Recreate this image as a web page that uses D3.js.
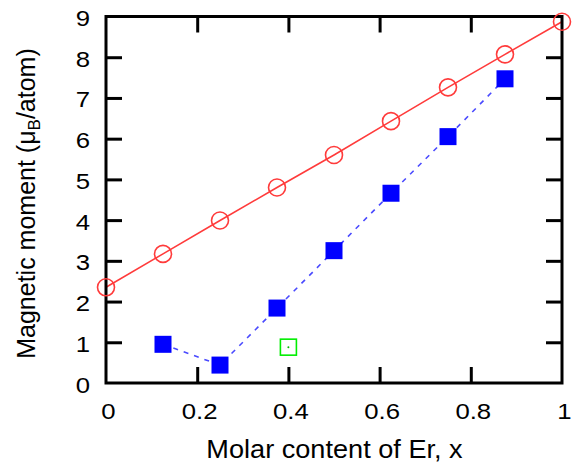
<!DOCTYPE html>
<html><head><meta charset="utf-8">
<script src="https://cdn.jsdelivr.net/npm/d3@7"></script>
<style>body{margin:0;background:#fff}</style>
</head><body>
<script>
const xCircle = [0, 0.125, 0.25, 0.375, 0.5, 0.625, 0.75, 0.875, 1];
const yCircle = [2.35, 3.17, 3.99, 4.80, 5.60, 6.43, 7.26, 8.07, 8.87];
const xSquare = [0.125, 0.25, 0.375, 0.5, 0.625, 0.75, 0.875];
const ySquare = [0.95, 0.44, 1.84, 3.25, 4.66, 6.05, 7.47];
const xOpenSq = [0.40];
const yOpenSq = [0.88];
const xTicks = [0, 0.2, 0.4, 0.6, 0.8, 1];
const yTicks = [0,1,2,3,4,5,6,7,8,9];
const xLabel = "Molar content of Er, x";

const W = 573, H = 469;
const m = {l:106, r:11, t:16.5, b:86};
const svg = d3.select("body").append("svg").attr("width", W).attr("height", H);
const x = d3.scaleLinear().domain([0,1]).range([m.l, W-m.r]);
const y = d3.scaleLinear().domain([0,9]).range([H-m.b, m.t]);
const font = "Liberation Sans, Arial, sans-serif";

// data lines
const circ = xCircle.map((v,i)=>[v,yCircle[i]]);
const sq = xSquare.map((v,i)=>[v,ySquare[i]]);
const line = d3.line().x(d=>x(d[0])).y(d=>y(d[1]));
svg.append("path").attr("d", line(circ)).attr("fill","none").attr("stroke","#ff3b3b").attr("stroke-width",1.6);
svg.append("path").attr("d", line(sq)).attr("fill","none").attr("stroke","#4a4aff").attr("stroke-width",1.6).attr("stroke-dasharray","5,6");

// frame & ticks
const g = svg.append("g");
const tl = 16;
const bottomAxis = d3.axisBottom(x).tickValues(xTicks.slice(1,-1)).tickSize(-tl).tickFormat("");
const topAxis = d3.axisTop(x).tickValues(xTicks.slice(1,-1)).tickSize(-tl).tickFormat("");
const leftAxis = d3.axisLeft(y).tickValues(yTicks.slice(1,-1)).tickSize(-tl).tickFormat("");
const rightAxis = d3.axisRight(y).tickValues(yTicks.slice(1,-1)).tickSize(-tl).tickFormat("");
[[bottomAxis,`translate(0,${y(0)})`],[topAxis,`translate(0,${y(9)})`],[leftAxis,`translate(${x(0)},0)`],[rightAxis,`translate(${x(1)},0)`]].forEach(([a,t])=>{
  const gg = g.append("g").attr("transform",t).call(a);
  gg.select(".domain").remove();
  gg.selectAll(".tick line").attr("stroke","#000").attr("stroke-width",3);
});
g.append("rect").attr("x",x(0)).attr("y",y(9)).attr("width",x(1)-x(0)).attr("height",y(0)-y(9))
  .attr("fill","none").attr("stroke","#000").attr("stroke-width",3);

// tick labels
svg.append("g").selectAll("text").data(xTicks).join("text")
  .attr("transform",d=>`translate(${x(d)+2.5},${y(0)+36}) scale(1.12,1)`).attr("text-anchor","middle")
  .attr("font-family",font).attr("font-size",23).text(d=>d3.format("")(d));
svg.append("g").selectAll("text").data(yTicks).join("text")
  .attr("transform",d=>`translate(${x(0)-16},${y(d)+9.5}) scale(1.12,1)`).attr("text-anchor","end")
  .attr("font-family",font).attr("font-size",23).text(d=>d);

// axis titles
svg.append("text").attr("transform",`translate(334.5,458) scale(1.086,1)`).attr("text-anchor","middle")
  .attr("font-family",font).attr("font-size",25).text(xLabel);
const yl = svg.append("text").attr("transform",`translate(34.5,203.5) rotate(-90)`)
  .attr("text-anchor","middle").attr("font-family",font).attr("font-size",25);
yl.append("tspan").text("Magnetic moment (μ");
yl.append("tspan").attr("font-size",17).attr("dy",5).text("B");
yl.append("tspan").attr("dy",-5).text("/atom)");

// markers
svg.append("g").selectAll("circle").data(circ).join("circle")
  .attr("cx",d=>x(d[0])).attr("cy",d=>y(d[1])).attr("r",8.5)
  .attr("fill","none").attr("stroke","#ff3b3b").attr("stroke-width",1.6);
const s = 17;
svg.append("g").selectAll("rect").data(sq).join("rect")
  .attr("x",d=>x(d[0])-s/2).attr("y",d=>y(d[1])-s/2).attr("width",s).attr("height",s)
  .attr("fill","#0000ff");
const os = xOpenSq.map((v,i)=>[v,yOpenSq[i]]);
svg.append("g").selectAll("rect").data(os).join("rect")
  .attr("x",d=>x(d[0])-8).attr("y",d=>y(d[1])-8).attr("width",16).attr("height",16)
  .attr("fill","none").attr("stroke","#00ee00").attr("stroke-width",1.6);
svg.append("g").selectAll("circle").data(os).join("circle")
  .attr("cx",d=>x(d[0])).attr("cy",d=>y(d[1])).attr("r",1).attr("fill","#00bb00");
</script>
</body></html>
